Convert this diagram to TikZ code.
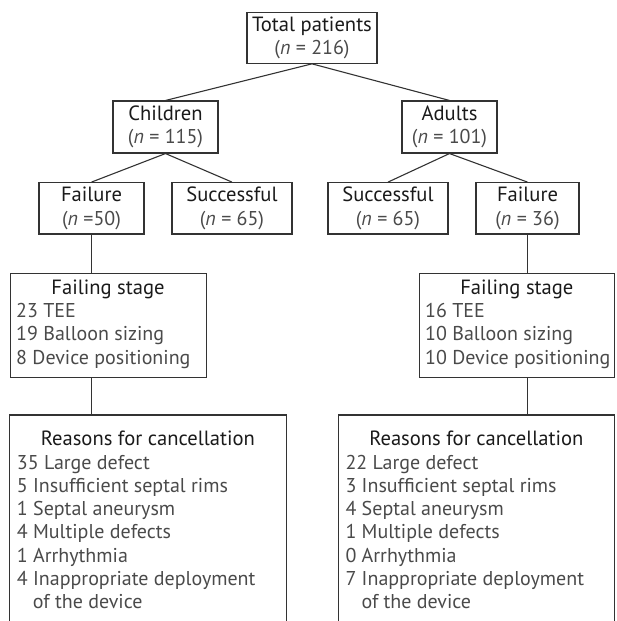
\documentclass[tikz,border=0pt]{standalone}
\usepackage{fontspec}
\setmainfont{PT Sans}
\definecolor{ink}{HTML}{333333}
\definecolor{headtxt}{HTML}{1A1A1A}
\definecolor{bodytxt}{HTML}{4A4A4A}
\newcommand{\nval}[1]{{\fontsize{20}{23.3}\selectfont\color{bodytxt}(\textit{n} = #1)}}
\newcommand{\hd}[1]{{\fontsize{20.6}{23.3}\selectfont #1}}
\begin{document}
\begin{tikzpicture}[x=1pt,y=-1pt,
  box/.style={draw=ink, line width=1.1pt, rectangle, inner sep=0pt, align=center,
    text=headtxt, font=\fontsize{20}{23.3}\selectfont},
  frame/.style={draw=none, rectangle, inner sep=0pt, anchor=north west},
  listtext/.style={inner sep=0pt, anchor=base west, text=headtxt,
    font=\fontsize{20}{23.3}\selectfont},
  link/.style={draw=ink, line width=1.1pt}]
\useasboundingbox (0,0) rectangle (616,621);

% two-line boxes
\node[box, minimum width=130pt, minimum height=50.6pt] (total) at (312,38) {\hd{Total patients}\\\nval{216}};
\node[box, minimum width=105pt, minimum height=52pt] (children) at (165.5,127) {\hd{Children}\\\nval{115}};
\node[box, minimum width=95pt, minimum height=52pt] (adults) at (449.5,127) {\hd{Adults}\\\nval{101}};
\node[box, minimum width=105pt, minimum height=51.3pt] (failC) at (91.5,208.3) {\hd{Failure}\\{\color{bodytxt}(\textit{n} =50)}};
\node[box, minimum width=120pt, minimum height=51.3pt] (succC) at (232,208.3) {\hd{Successful}\\\nval{65}};
\node[box, minimum width=120pt, minimum height=51.3pt] (succA) at (388,208.3) {\hd{Successful}\\\nval{65}};
\node[box, minimum width=103pt, minimum height=51.3pt] (failA) at (527.5,208.3) {\hd{Failure}\\\nval{36}};

% failing stage boxes
\node[frame, draw=ink, line width=1.1pt, minimum width=195.7pt, minimum height=104.6pt] (stageC) at (10,272.7) {};
\node[frame, draw=ink, line width=1.1pt, minimum width=195.3pt, minimum height=104.6pt] (stageA) at (419,272.7) {};
\node[listtext] (stageCtxt) at (16,294.3) {\parbox[t]{183.7pt}{\centering\hd{Failing stage}\par
  \raggedright\color{bodytxt}\mbox{23 TEE}\\\mbox{19 Balloon sizing}\\\mbox{8 Device positioning}}};
\node[listtext] (stageAtxt) at (425,294.3) {\parbox[t]{183.3pt}{\centering\hd{Failing stage}\par
  \raggedright\color{bodytxt}\mbox{16 TEE}\\\mbox{10 Balloon sizing}\\\mbox{10 Device positioning}}};

% reasons boxes (open at the bottom edge)
\node[frame, minimum width=276pt, minimum height=210pt] (reasC) at (9.7,415) {};
\node[frame, minimum width=275.7pt, minimum height=210pt] (reasA) at (338.3,415) {};
\draw[link] (reasC.south west) -- (reasC.north west) -- (reasC.north east) -- (reasC.south east);
\draw[link] (reasA.south west) -- (reasA.north west) -- (reasA.north east) -- (reasA.south east);
\node[listtext] (reasCtxt) at (16.7,445.7) {\parbox[t]{262pt}{\centering\hd{Reasons for cancellation}\par
  \raggedright\color{bodytxt}35 Large defect\\5 Insufficient septal rims\\1 Septal aneurysm\\4 Multiple defects\\1 Arrhythmia\\4 Inappropriate deployment\\\hspace*{16pt}of the device}};
\node[listtext] (reasAtxt) at (345.3,445.7) {\parbox[t]{261.7pt}{\centering\hd{Reasons for cancellation}\par
  \raggedright\color{bodytxt}22 Large defect\\3 Insufficient septal rims\\4 Septal aneurysm\\1 Multiple defects\\0 Arrhythmia\\7 Inappropriate deployment\\\hspace*{16pt}of the device}};

% connectors
\draw[link] (total.south) -- (children.north);
\draw[link] (total.south) -- (adults.north);
\draw[link] (children.south) -- (failC.north);
\draw[link] (children.south) -- (succC.north);
\draw[link] (adults.south) -- (succA.north);
\draw[link] (adults.south) -- (failA.north);
\draw[link] (failC.south) -- (failC.south |- stageC.north);
\draw[link] (failA.south) -- (failA.south |- stageA.north);
\draw[link] (failC.south |- stageC.south) -- (failC.south |- reasC.north);
\draw[link] (failA.south |- stageA.south) -- (failA.south |- reasA.north);
\end{tikzpicture}
\end{document}
